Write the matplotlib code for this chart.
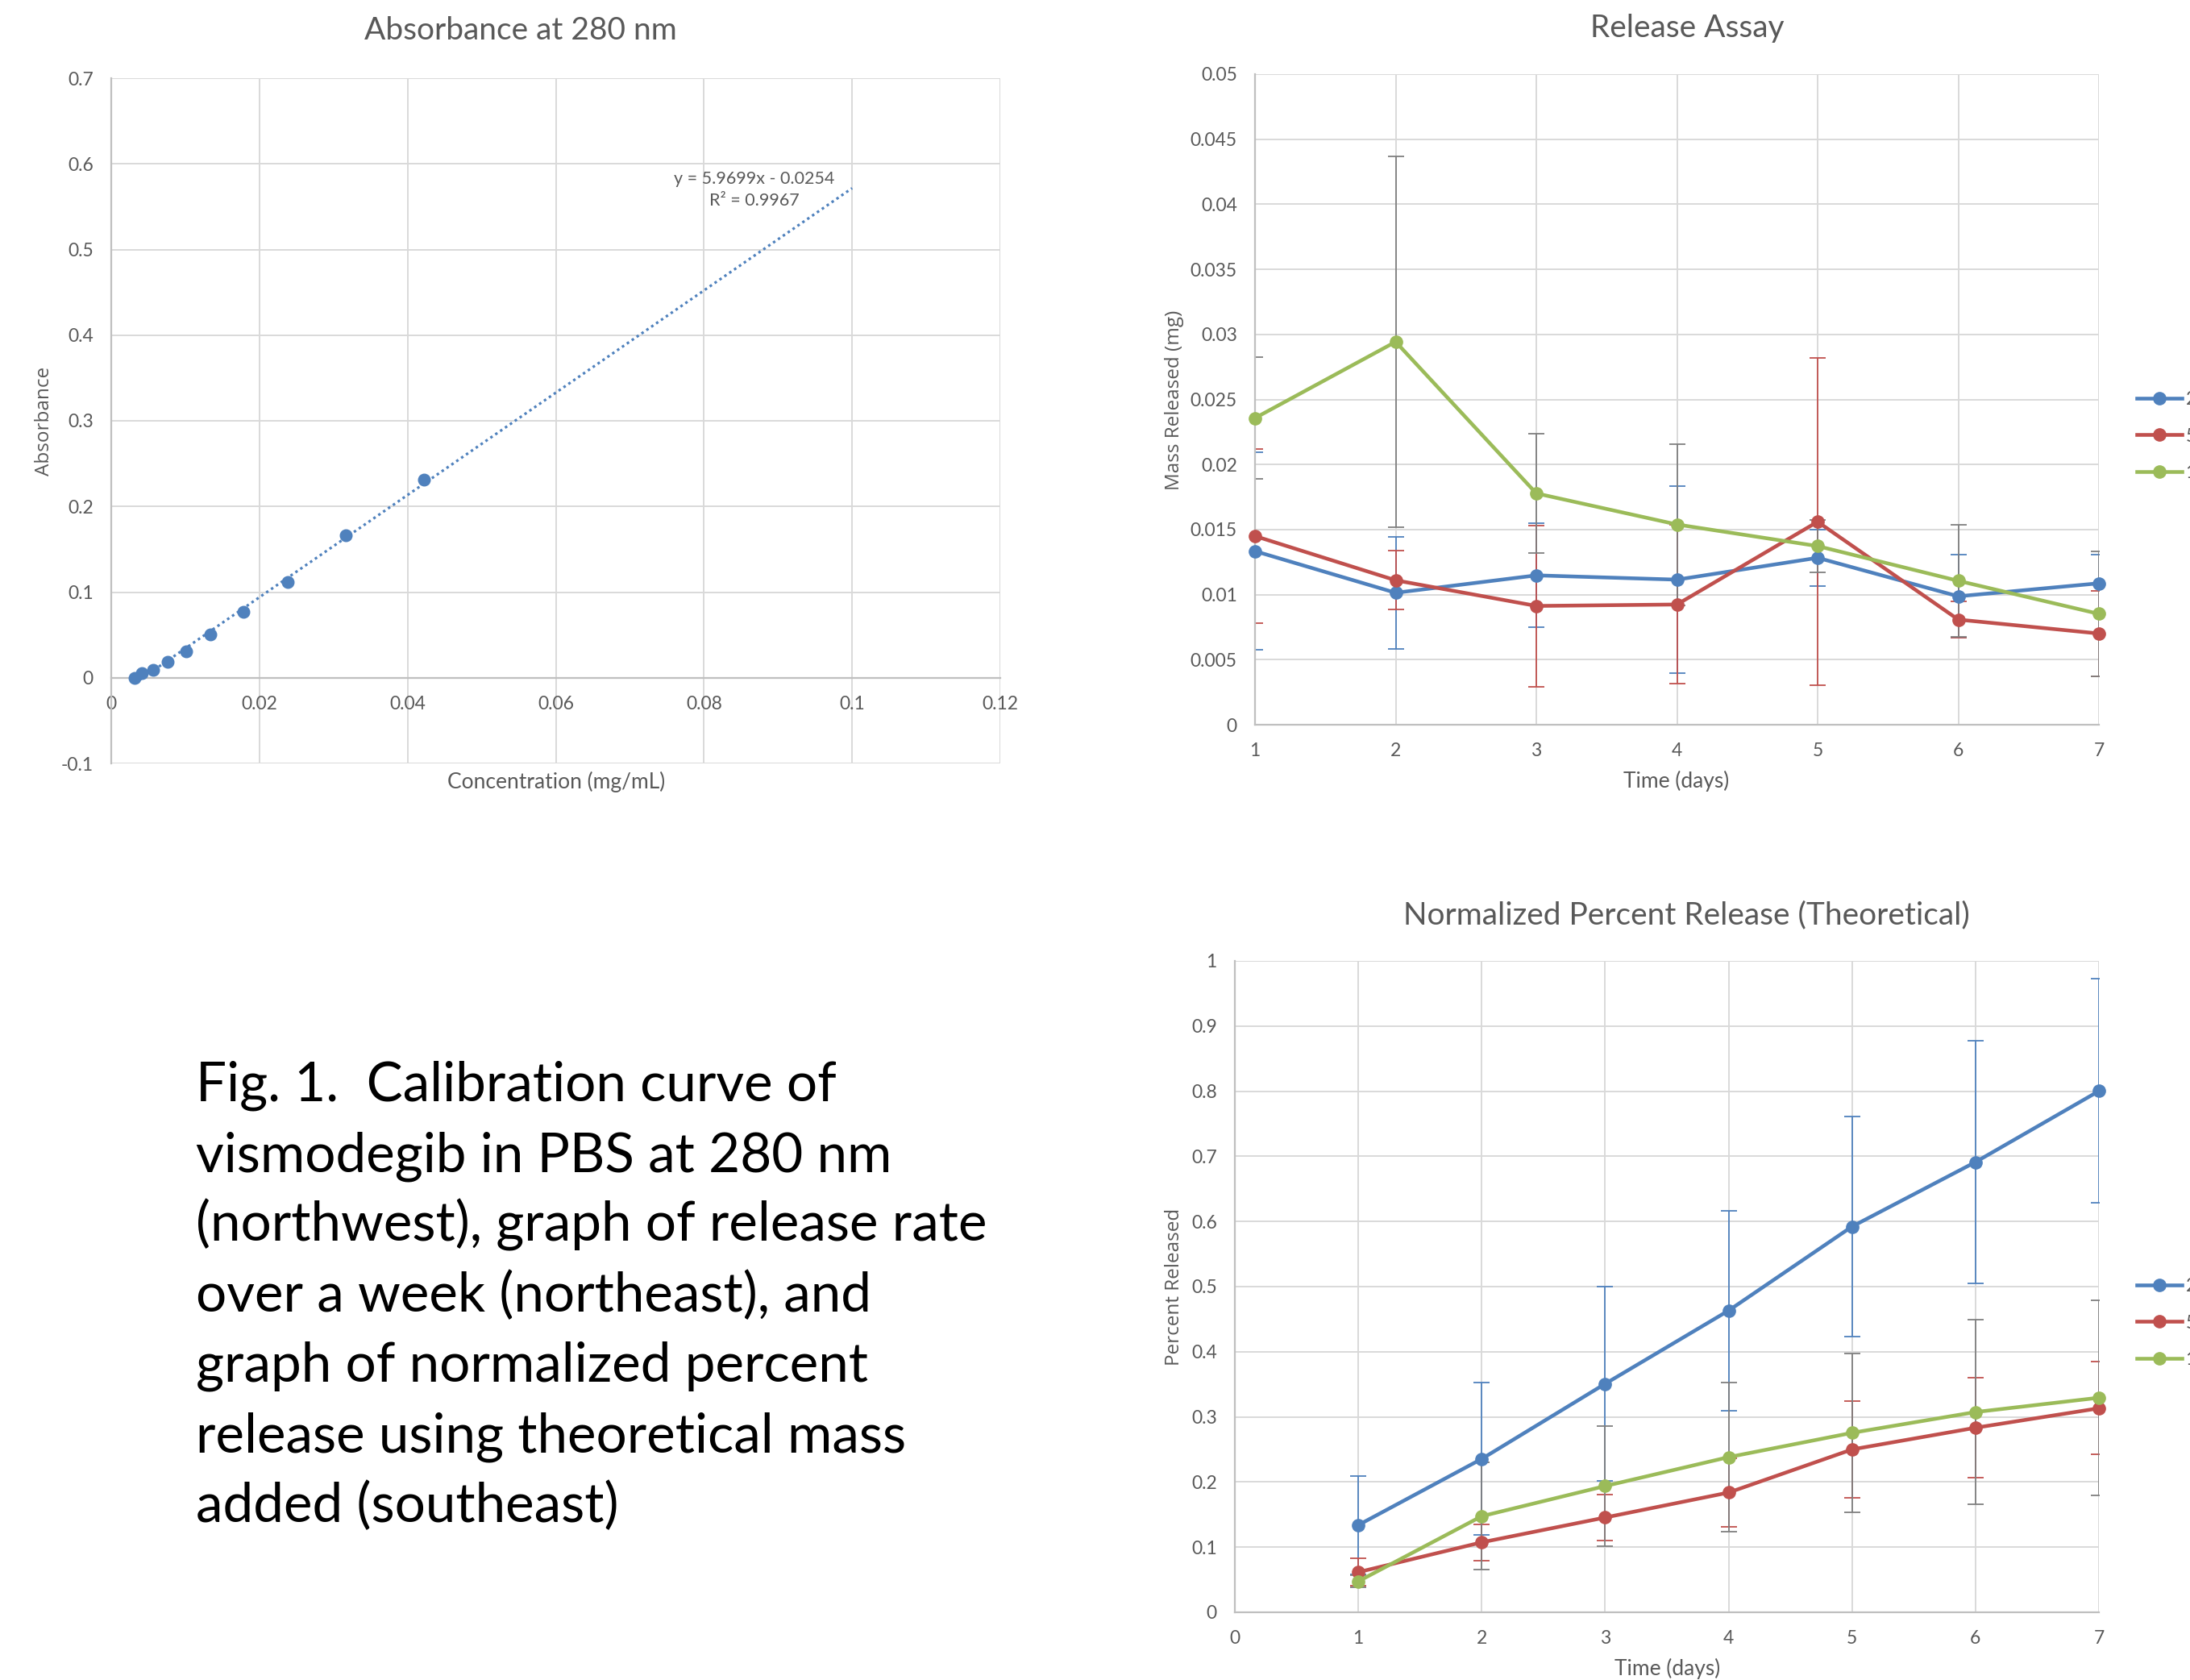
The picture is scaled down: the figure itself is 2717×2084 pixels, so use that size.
import matplotlib
matplotlib.use("Agg")
import matplotlib.pyplot as plt
from matplotlib.ticker import FuncFormatter

plt.rcParams['font.family'] = ['Lato', 'DejaVu Sans']

W, H = 2717, 2084

# calibration curve
conc = [0.00315, 0.00414, 0.00568, 0.00757, 0.01009, 0.01342, 0.01784, 0.02378, 0.03171, 0.04225]
absorb = [0.0, 0.0054, 0.0096, 0.0186, 0.0312, 0.0504, 0.0768, 0.1116, 0.166, 0.231]
slope, intercept, r2 = 5.9699, -0.0254, 0.9967
trend_end = 0.1

# release assay (mg)
days = [1, 2, 3, 4, 5, 6, 7]
series_labels = ['2 mg', '5 mg', '10 mg']
mass_blue = [0.01334, 0.01014, 0.01148, 0.01115, 0.01283, 0.00987, 0.01087]
mass_blue_err = [0.0076, 0.0043, 0.0040, 0.0072, 0.00215, 0.0032, 0.0022]
mass_red = [0.0145, 0.0111, 0.00913, 0.00924, 0.0156, 0.00808, 0.00701]
mass_red_err = [0.0067, 0.00227, 0.0062, 0.0061, 0.01256, 0.0014, 0.0033]
mass_green = [0.02357, 0.02943, 0.01778, 0.01539, 0.01373, 0.01106, 0.00852]
mass_green_err = [0.0047, 0.01427, 0.0046, 0.0062, 0.0020, 0.0043, 0.0048]

# normalized percent release
pct_blue = [0.1339, 0.2355, 0.3508, 0.4632, 0.5922, 0.6912, 0.8002]
pct_blue_err = [0.0756, 0.1172, 0.1487, 0.1537, 0.169, 0.1863, 0.172]
pct_red = [0.0616, 0.1074, 0.1455, 0.1838, 0.25, 0.2833, 0.3132]
pct_red_err = [0.021, 0.0279, 0.0352, 0.052, 0.0738, 0.0768, 0.0712]
pct_green = [0.0475, 0.1475, 0.1938, 0.2382, 0.2755, 0.3074, 0.3294]
pct_green_err = [0.0095, 0.0822, 0.0924, 0.1145, 0.1223, 0.1413, 0.15]

caption_lines = [
    "Fig. 1.  Calibration curve of",
    "vismodegib in PBS at 280 nm",
    "(northwest), graph of release rate",
    "over a week (northeast), and",
    "graph of normalized percent",
    "release using theoretical mass",
    "added (southeast)",
]

BLUE, RED, GREEN = '#4F81BD', '#C0504D', '#9BBB59'
ERR_GREY = '#7F7F7F'
TXT = '#595959'
GRID = '#D9D9D9'
AXIS = '#BFBFBF'


def fx(x):
    return x / W


def fy(y):
    return 1 - y / H


def box(left, top, right, bottom):
    return [fx(left), fy(bottom), (right - left) / W, (bottom - top) / H]


fmt = FuncFormatter(lambda v, p: f"{round(v, 6):g}")


def style(ax, xlim, ylim, xticks, yticks):
    ax.set_xlim(xlim)
    ax.set_ylim(ylim)
    ax.set_xticks(xticks)
    ax.set_yticks(yticks)
    ax.xaxis.set_major_formatter(fmt)
    ax.yaxis.set_major_formatter(fmt)
    ax.grid(True, color=GRID, lw=1.4)
    ax.set_axisbelow(True)
    for s in ['top', 'right']:
        ax.spines[s].set_visible(False)
    for s in ['left', 'bottom']:
        ax.spines[s].set_color(AXIS)
        ax.spines[s].set_linewidth(1.6)
    ax.tick_params(length=0, labelsize=16.5, labelcolor=TXT, pad=16)


fig = plt.figure(figsize=(W / 100, H / 100), dpi=100)

# ---- calibration curve
ax1 = fig.add_axes(box(138, 97, 1241, 947))
style(ax1, (0, 0.12), (-0.1, 0.7),
      [0, 0.02, 0.04, 0.06, 0.08, 0.1, 0.12],
      [-0.1, 0, 0.1, 0.2, 0.3, 0.4, 0.5, 0.6, 0.7])
ax1.spines['bottom'].set_position(('data', 0))
tx = [min(conc), trend_end]
ax1.plot(tx, [slope * x + intercept for x in tx], color=BLUE, lw=2.3,
         linestyle=(0, (1, 1.3)), zorder=3)
ax1.plot(conc, absorb, 'o', color=BLUE, ms=10.5, zorder=4)
fig.text(fx(936), fy(222), f"y = {slope}x - {abs(intercept)}", ha='center', va='center',
         fontsize=15.5, color=TXT)
fig.text(fx(936), fy(249), f"R² = {r2}", ha='center', va='center', fontsize=15.5, color=TXT)
fig.text(fx(646), fy(38), "Absorbance at 280 nm", ha='center', va='center', fontsize=28, color=TXT)
fig.text(fx(690), fy(970), "Concentration (mg/mL)", ha='center', va='center', fontsize=19, color=TXT)
fig.text(fx(55), fy(522), "Absorbance", ha='center', va='center', rotation=90,
         fontsize=17.5, color=TXT, family=['Open Sans', 'DejaVu Sans'])


def release_panel(ax, ys, errs):
    cols = [BLUE, RED, GREEN]
    ecols = [BLUE, RED, ERR_GREY]
    for y, e, ec in zip(ys, errs, ecols):
        ax.errorbar(days, y, yerr=e, fmt='none', ecolor=ec, elinewidth=1.3,
                    capsize=7.5, capthick=1.3, zorder=2)
    handles = []
    for y, c in zip(ys, cols):
        h, = ax.plot(days, y, '-o', color=c, lw=3.3, ms=11, zorder=3, clip_on=False)
        handles.append(h)
    return handles


def side_legend(ax, handles, y_center):
    ax.legend(handles, series_labels, loc='center left',
              bbox_to_anchor=(fx(2651), fy(y_center)),
              bbox_transform=fig.transFigure, frameon=False, fontsize=16.5,
              handlelength=2.45, handletextpad=0.2, labelspacing=1.05,
              borderpad=0, borderaxespad=0, labelcolor=TXT)


# ---- release assay
ax2 = fig.add_axes(box(1557, 92, 2604, 899))
style(ax2, (1, 7), (0, 0.05), days,
      [0, 0.005, 0.01, 0.015, 0.02, 0.025, 0.03, 0.035, 0.04, 0.045, 0.05])
h2 = release_panel(ax2, [mass_blue, mass_red, mass_green],
                   [mass_blue_err, mass_red_err, mass_green_err])
fig.text(fx(2093), fy(35), "Release Assay", ha='center', va='center', fontsize=28, color=TXT)
fig.text(fx(2080), fy(969), "Time (days)", ha='center', va='center', fontsize=19, color=TXT)
fig.text(fx(1457), fy(496), "Mass Released (mg)", ha='center', va='center', rotation=90,
         fontsize=17.5, color=TXT, family=['Open Sans', 'DejaVu Sans'])
side_legend(ax2, h2, 541)

# ---- normalized percent release
ax3 = fig.add_axes(box(1532, 1192, 2604, 2000))
style(ax3, (0, 7), (0, 1), [0] + days,
      [0, 0.1, 0.2, 0.3, 0.4, 0.5, 0.6, 0.7, 0.8, 0.9, 1])
h3 = release_panel(ax3, [pct_blue, pct_red, pct_green],
                   [pct_blue_err, pct_red_err, pct_green_err])
fig.text(fx(2092), fy(1135), "Normalized Percent Release (Theoretical)", ha='center', va='center',
         fontsize=28, color=TXT)
fig.text(fx(2069), fy(2070), "Time (days)", ha='center', va='center', fontsize=19, color=TXT)
fig.text(fx(1457), fy(1596), "Percent Released", ha='center', va='center', rotation=90,
         fontsize=17.5, color=TXT, family=['Open Sans', 'DejaVu Sans'])
side_legend(ax3, h3, 1641)

# ---- caption
for i, line in enumerate(caption_lines):
    fig.text(fx(243), fy(1366 + 87 * i), line, ha='left', va='baseline',
             fontsize=48.5, color='black')

fig.savefig("out.png", dpi=100, facecolor='white')
